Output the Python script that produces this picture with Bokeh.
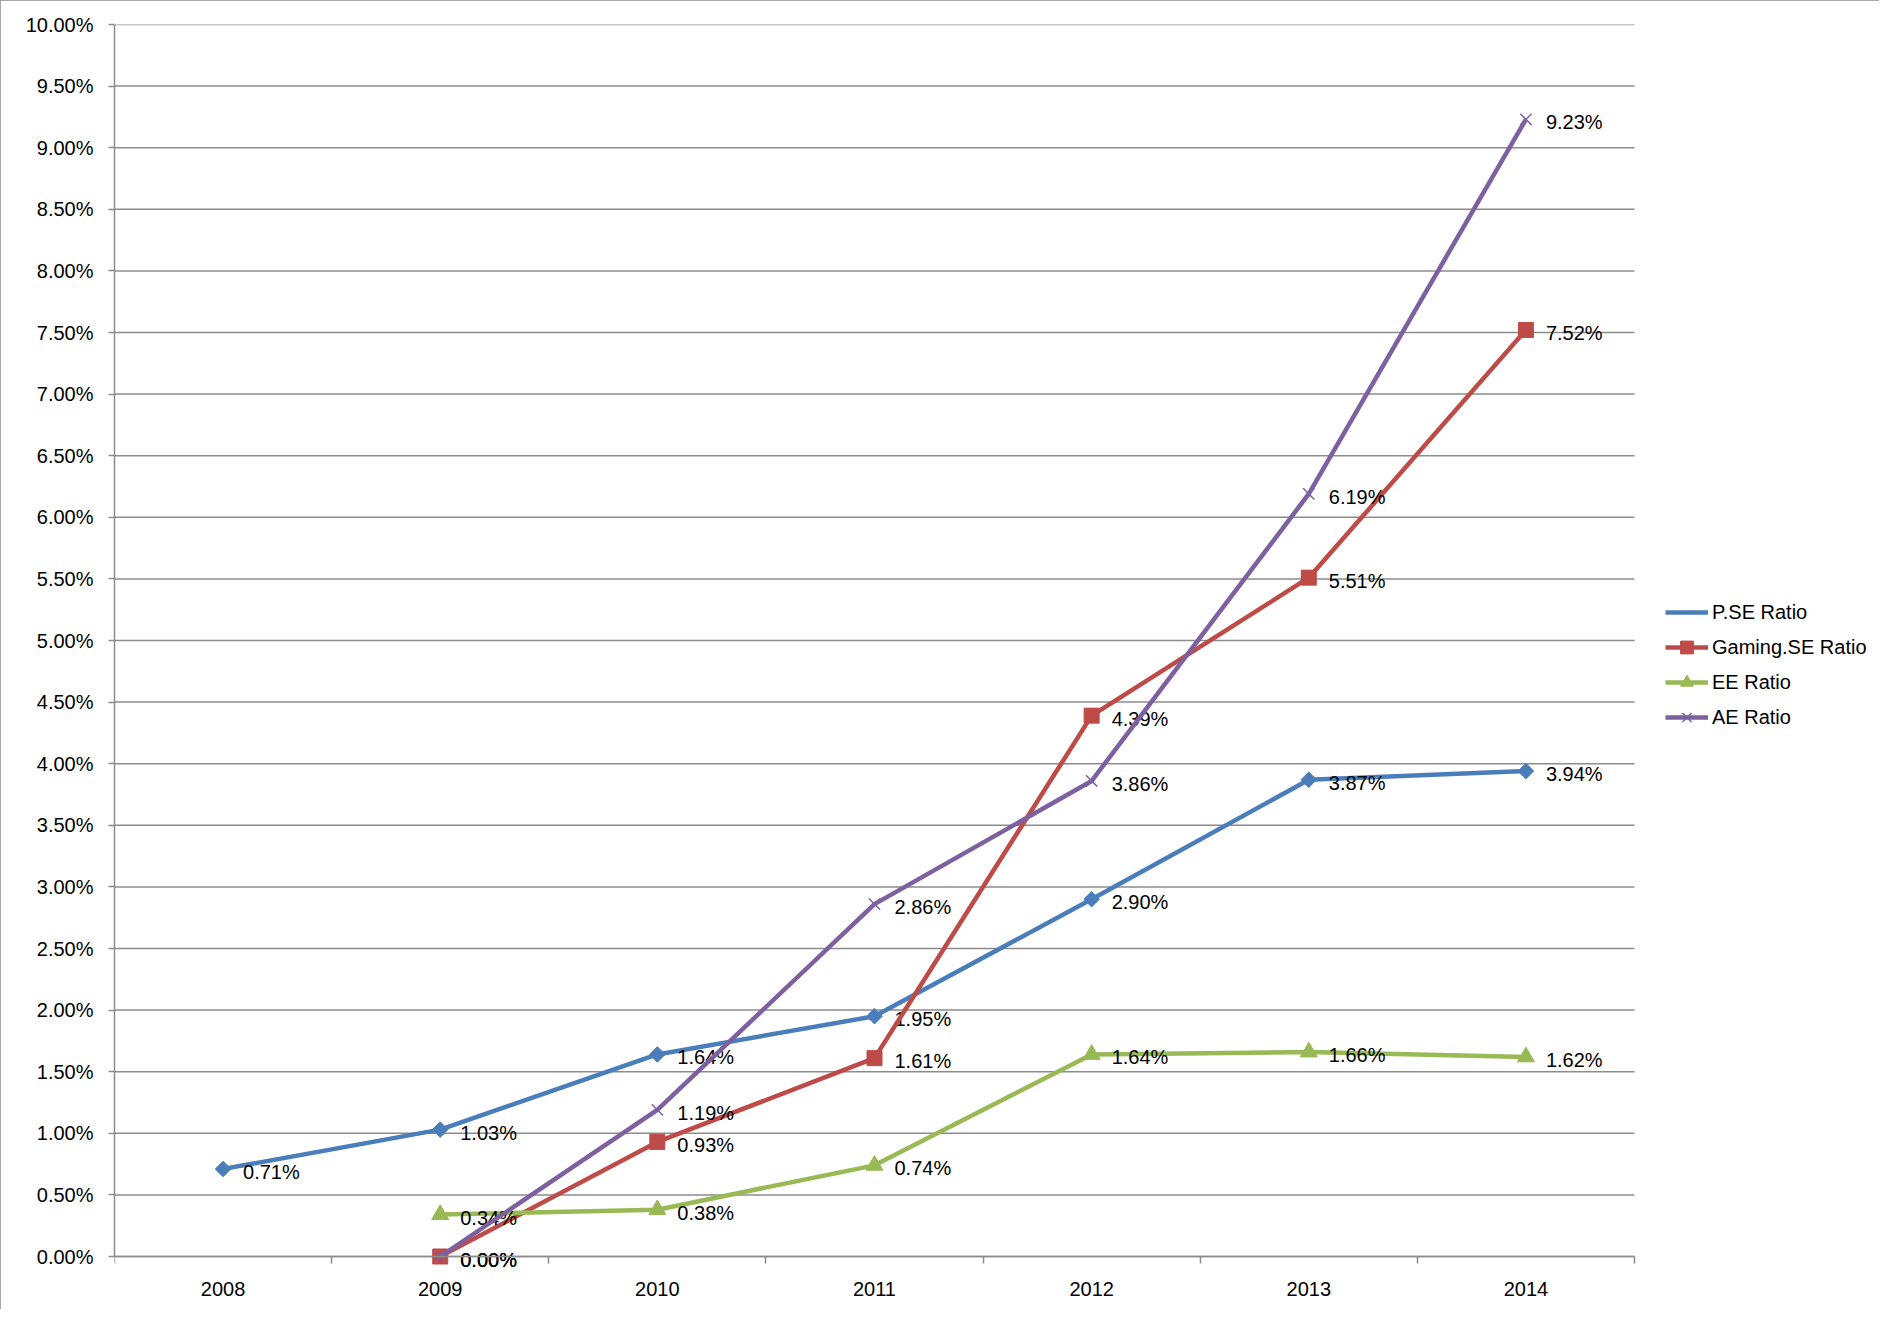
import math
from bokeh.plotting import figure
from bokeh.models import (FixedTicker, PrintfTickFormatter, Legend, LegendItem,
                          ColumnDataSource, Range1d)
from bokeh.core.properties import value
from bokeh.embed import file_html
from bokeh.resources import INLINE

years = ["2008", "2009", "2010", "2011", "2012", "2013", "2014"]
pse = [0.71, 1.03, 1.64, 1.95, 2.90, 3.87, 3.94]
gaming_years = ["2009", "2010", "2011", "2012", "2013", "2014"]
gaming = [0.00, 0.93, 1.61, 4.39, 5.51, 7.52]
ee_years = ["2009", "2010", "2011", "2012", "2013", "2014"]
ee = [0.34, 0.38, 0.74, 1.64, 1.66, 1.62]
ae_years = ["2009", "2010", "2011", "2012", "2013", "2014"]
ae = [0.00, 1.19, 2.86, 3.86, 6.19, 9.23]
y_ticks = [i * 0.5 for i in range(21)]
y_max = 10

FONT = "Liberation Sans"
GRID = "#8c8c8c"

W, H = 1879, 1309
LEFT, TOP, RIGHT_PAD, BOTTOM_PAD = 114, 24, 5, 5
PLOT_W = 1520      # px width of the category area
PLOT_H = 1232      # px height from 0% to 10%
n = len(years)
x_end = n * (W - LEFT - RIGHT_PAD) / PLOT_W
frame_h = H - TOP - BOTTOM_PAD
y_start = -(frame_h - PLOT_H) * y_max / PLOT_H

def xpos(ys):
    return [years.index(y) + 0.5 for y in ys]

p = figure(width=W, height=H, output_backend="svg", toolbar_location=None,
           x_range=Range1d(0, x_end), y_range=Range1d(y_start, y_max),
           min_border_left=LEFT, min_border_top=TOP, min_border_right=RIGHT_PAD,
           min_border_bottom=BOTTOM_PAD)
p.outline_line_color = None
p.background_fill_color = "white"
p.border_fill_color = "white"
p.styles = {"outline": "2px solid #8c8c8c", "outline-offset": "-2px"}

# horizontal gridlines only across the category area
p.segment(x0=[0] * len(y_ticks), x1=[n] * len(y_ticks), y0=y_ticks, y1=y_ticks,
          line_color=GRID, line_width=1.5)
p.xgrid.grid_line_color = None
p.ygrid.grid_line_color = None

# axes
xa = p.xaxis[0]
xa.fixed_location = 0
xa.bounds = (0, n)
xa.ticker = FixedTicker(ticks=[i + 0.5 for i in range(n)],
                        minor_ticks=list(range(n + 1)))
xa.major_label_overrides = {i + 0.5: y for i, y in enumerate(years)}
xa.major_tick_out = 0
xa.major_tick_in = 0
xa.minor_tick_out = 7
xa.minor_tick_in = 0
xa.minor_tick_line_color = GRID
xa.minor_tick_line_width = 1.5
xa.axis_line_color = GRID
xa.axis_line_width = 1.5
xa.major_label_text_font = FONT
xa.major_label_text_font_size = "20px"
xa.major_label_text_color = "black"
xa.major_label_standoff = 18

ya = p.yaxis[0]
ya.bounds = (0, y_max)
ya.ticker = FixedTicker(ticks=y_ticks)
ya.formatter = PrintfTickFormatter(format="%.2f%%")
ya.major_tick_out = 6
ya.major_tick_in = 0
ya.minor_tick_out = 0
ya.minor_tick_in = 0
ya.major_tick_line_color = GRID
ya.major_tick_line_width = 1.5
ya.axis_line_color = GRID
ya.axis_line_width = 1.5
ya.major_label_text_font = FONT
ya.major_label_text_font_size = "20px"
ya.major_label_text_color = "black"
ya.major_label_standoff = 15

series = [
    ("P.SE Ratio", years, pse, "#4a7ebb", "diamond"),
    ("Gaming.SE Ratio", gaming_years, gaming, "#be4b48", "square"),
    ("EE Ratio", ee_years, ee, "#98b954", "triangle"),
    ("AE Ratio", ae_years, ae, "#7d60a0", "x"),
]

items = []
for name, ys, vals, color, marker in series:
    src = ColumnDataSource(dict(x=xpos(ys), y=vals,
                                lab=["%.2f%%" % v for v in vals]))
    lr = p.line("x", "y", source=src, line_color=color, line_width=4.5)
    if marker == "diamond":
        mr = p.scatter("x", "y", source=src, marker="square", angle=math.pi / 4,
                       size=11, fill_color=color, line_color=color)
        # legend-only swatch (no data)
        mr = p.scatter(x=[], y=[], marker="diamond", fill_color=color,
                       line_color=color)
    elif marker == "square":
        mr = p.scatter("x", "y", source=src, marker="square", size=15,
                       fill_color=color, line_color=color)
    elif marker == "triangle":
        mr = p.scatter("x", "y", source=src, marker="triangle", size=17,
                       fill_color=color, line_color=color)
    else:
        mr = p.scatter("x", "y", source=src, marker="x", size=16,
                       line_color=color, line_width=1.5)
    p.text("x", "y", text="lab", source=src, x_offset=20, y_offset=3,
           text_font=value(FONT), text_font_size="20px", text_color="black",
           text_baseline="middle", text_align="left")
    items.append(LegendItem(label=name, renderers=[lr, mr]))

legend_bottom_px = 733  # page y of the legend's lower edge
legend = Legend(items=items,
                location=(1551, (TOP + frame_h) - legend_bottom_px),
                orientation="vertical",
                glyph_width=43, glyph_height=32, label_height=20, spacing=3,
                label_standoff=4, padding=0, margin=0,
                label_text_font=FONT, label_text_font_size="20px",
                label_text_color="black",
                border_line_color=None, background_fill_alpha=0)
p.add_layout(legend, "center")

open("out.html", "w").write(file_html(p, INLINE))
